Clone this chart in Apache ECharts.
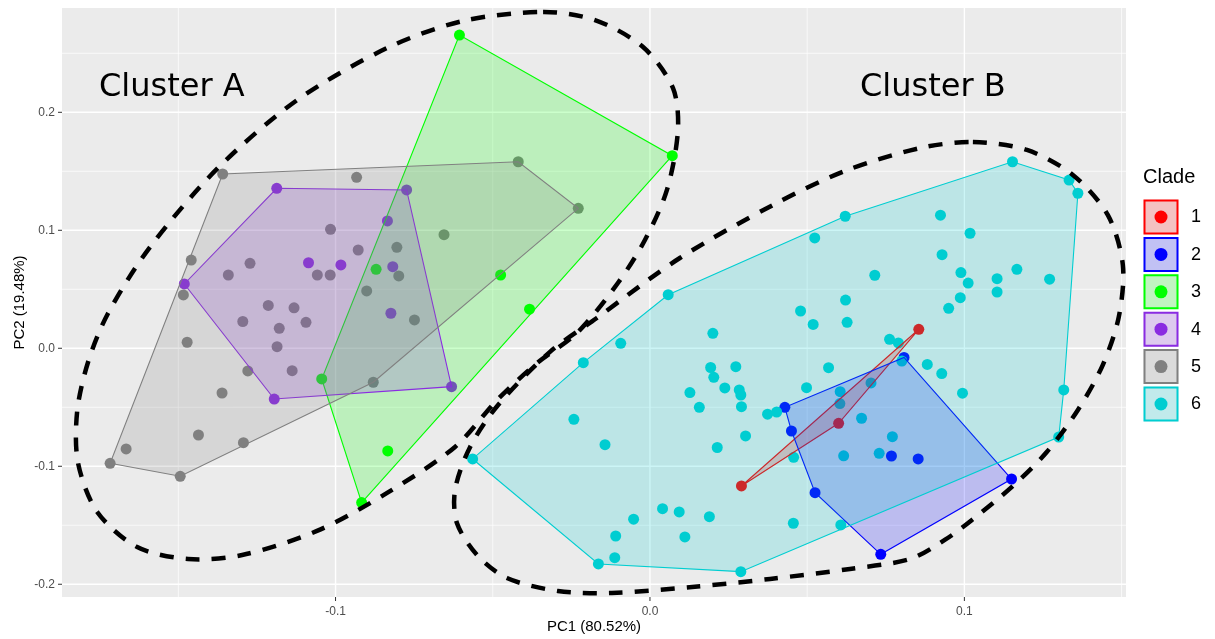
<!DOCTYPE html>
<html>
<head>
<meta charset="utf-8">
<title>PCA of clades</title>
<script src="https://cdn.jsdelivr.net/npm/echarts@6/dist/echarts.min.js"></script>
<style>
  html, body { margin: 0; padding: 0; background: #ffffff; }
  #chart { width: 1215px; height: 639px; }
</style>
</head>
<body>
<div id="chart"></div>
<script>
// Sample scores on the first two principal components, [PC1, PC2], per clade
const clade1 = [[0.0855, 0.0161], [0.0600, -0.0636], [0.0291, -0.1167]];
const clade2 = [[0.0808, -0.0078], [0.0429, -0.0500], [0.0450, -0.0701], [0.0768, -0.0913],
  [0.0853, -0.0938], [0.1150, -0.1108], [0.0734, -0.1746], [0.0525, -0.1224]];
const clade3 = [[-0.0606, 0.2655], [0.0071, 0.1632], [-0.0871, 0.0669], [-0.0475, 0.0621],
  [-0.0383, 0.0331], [-0.1044, -0.0260], [-0.0834, -0.0870], [-0.0917, -0.1308]];
const clade4 = [[-0.1187, 0.1356], [-0.0774, 0.1342], [-0.0835, 0.1079], [-0.1086, 0.0725],
  [-0.0983, 0.0706], [-0.0818, 0.0692], [-0.0824, 0.0297], [-0.0631, -0.0325],
  [-0.1195, -0.0430], [-0.1481, 0.0545]];
const clade5 = [[-0.1359, 0.1477], [-0.0933, 0.1449], [-0.0419, 0.1581], [-0.0228, 0.1186],
  [-0.0655, 0.0963], [-0.1016, 0.1008], [-0.0805, 0.0856], [-0.0928, 0.0833],
  [-0.1459, 0.0748], [-0.1272, 0.0720], [-0.1341, 0.0621], [-0.1058, 0.0621],
  [-0.1017, 0.0621], [-0.0799, 0.0613], [-0.1484, 0.0452], [-0.0901, 0.0486],
  [-0.1214, 0.0363], [-0.1132, 0.0343], [-0.1295, 0.0227], [-0.1179, 0.0169],
  [-0.1094, 0.0220], [-0.0749, 0.0240], [-0.1186, 0.0014], [-0.1472, 0.0051],
  [-0.1279, -0.0192], [-0.1138, -0.0190], [-0.0880, -0.0288], [-0.1361, -0.0379],
  [-0.1436, -0.0735], [-0.1293, -0.0800], [-0.1666, -0.0853], [-0.1717, -0.0975],
  [-0.1494, -0.1085]];
const clade6 = [[-0.0564, -0.0938], [-0.0212, -0.0122], [0.0058, 0.0454], [-0.0093, 0.0042],
  [-0.0242, -0.0602], [-0.0143, -0.0817], [-0.0164, -0.1828], [0.0289, -0.1893],
  [0.0200, 0.0127], [0.0193, -0.0163], [0.0273, -0.0156], [0.0203, -0.0246],
  [0.0127, -0.0375], [0.0238, -0.0336], [0.0284, -0.0353], [0.0289, -0.0396],
  [0.0157, -0.0500], [0.0291, -0.0495], [0.0304, -0.0743], [0.0214, -0.0841],
  [0.0040, -0.1359], [0.0093, -0.1387], [0.0189, -0.1427], [-0.0052, -0.1448],
  [0.0111, -0.1599], [-0.0109, -0.1591], [-0.0112, -0.1775], [0.0374, -0.0559],
  [0.0403, -0.0540], [0.0621, 0.1119], [0.0924, 0.1128], [0.1018, 0.0975],
  [0.0524, 0.0935], [0.0929, 0.0793], [0.0715, 0.0619], [0.0989, 0.0642],
  [0.1012, 0.0553], [0.1104, 0.0590], [0.1104, 0.0477], [0.1167, 0.0669],
  [0.1271, 0.0586], [0.0987, 0.0429], [0.0950, 0.0339], [0.0622, 0.0409],
  [0.0479, 0.0316], [0.0627, 0.0220], [0.0519, 0.0202], [0.0762, 0.0076],
  [0.0790, 0.0045], [0.0801, -0.0108], [0.0882, -0.0137], [0.0928, -0.0214],
  [0.0994, -0.0381], [0.0568, -0.0164], [0.0498, -0.0334], [0.0605, -0.0368],
  [0.0703, -0.0294], [0.0604, -0.0469], [0.0673, -0.0593], [0.0771, -0.0749],
  [0.0457, -0.0924], [0.0616, -0.0911], [0.0729, -0.0890], [0.0456, -0.1483],
  [0.0607, -0.1497], [0.1153, 0.1581], [0.1333, 0.1426], [0.1361, 0.1314],
  [0.1316, -0.0353], [0.1300, -0.0752]];

const cladeNames = ['1', '2', '3', '4', '5', '6'];
const cladeColors = ['#FF0000', '#0000FF', '#00FF00', '#8A2BE2', '#808080', '#00CED1'];

// Dashed outlines grouping the clades into two clusters, [PC1, PC2]
const clusterAOutline = [[-0.0340, 0.2850], [-0.0175, 0.2782], [-0.0022, 0.2553], [0.0073, 0.2206],
  [0.0089, 0.1850], [0.0054, 0.1342], [-0.0016, 0.0918], [-0.0102, 0.0553],
  [-0.0232, 0.0130], [-0.0359, -0.0125], [-0.0486, -0.0438], [-0.0620, -0.0836],
  [-0.0836, -0.1226], [-0.1059, -0.1548], [-0.1297, -0.1752], [-0.1469, -0.1786],
  [-0.1631, -0.1684], [-0.1758, -0.1387], [-0.1819, -0.0972], [-0.1822, -0.0540],
  [-0.1787, -0.0116], [-0.1723, 0.0299], [-0.1590, 0.0858], [-0.1374, 0.1528],
  [-0.1122, 0.2104], [-0.0836, 0.2545], [-0.0595, 0.2774]];
const clusterBOutline = [[0.1027, 0.1748], [0.1199, 0.1681], [0.1345, 0.1469], [0.1456, 0.1130],
  [0.1504, 0.0706], [0.1491, 0.0265], [0.1440, -0.0142], [0.1361, -0.0523],
  [0.1262, -0.0879], [0.1151, -0.1175], [0.1024, -0.1455], [0.0940, -0.1620],
  [0.0827, -0.1786], [0.0636, -0.1870], [0.0382, -0.1955], [0.0134, -0.2023],
  [-0.0121, -0.2074], [-0.0293, -0.2057], [-0.0455, -0.1947], [-0.0550, -0.1752],
  [-0.0614, -0.1481], [-0.0620, -0.1201], [-0.0572, -0.0836], [-0.0483, -0.0481],
  [-0.0318, -0.0031], [-0.0169, 0.0257], [0.0095, 0.0765], [0.0391, 0.1214],
  [0.0620, 0.1503], [0.0859, 0.1697]];
const clusterLabels = ['Cluster A', 'Cluster B'];

// Axis ticks and titles
const xMajorTicks = [-0.1, 0.0, 0.1];
const xMinorTicks = [-0.15, -0.05, 0.05, 0.15];
const yMajorTicks = [-0.2, -0.1, 0.0, 0.1, 0.2];
const yMinorTicks = [-0.15, -0.05, 0.05, 0.15, 0.25];
const xTitle = 'PC1 (80.52%)';
const yTitle = 'PC2 (19.48%)';
const legendTitle = 'Clade';

// ---- layout ----
const X_MIN = -0.187, X_MAX = 0.1514;
const Y_MIN = -0.2108, Y_MAX = 0.2884;
const GRID = { left: 62, top: 8, width: 1064, height: 589 };
const FONT = '"Liberation Sans", Arial, sans-serif';
const PANEL_BG = '#EBEBEB';

function rgba(hex, a) {
  const n = parseInt(hex.slice(1), 16);
  return 'rgba(' + ((n >> 16) & 255) + ',' + ((n >> 8) & 255) + ',' + (n & 255) + ',' + a + ')';
}

// Monotone-chain convex hull
function convexHull(points) {
  const pts = points.slice().sort((a, b) => a[0] - b[0] || a[1] - b[1]);
  const cross = (o, a, b) => (a[0] - o[0]) * (b[1] - o[1]) - (a[1] - o[1]) * (b[0] - o[0]);
  const lower = [], upper = [];
  for (const p of pts) {
    while (lower.length >= 2 && cross(lower[lower.length - 2], lower[lower.length - 1], p) <= 0) lower.pop();
    lower.push(p);
  }
  for (let i = pts.length - 1; i >= 0; i--) {
    const p = pts[i];
    while (upper.length >= 2 && cross(upper[upper.length - 2], upper[upper.length - 1], p) <= 0) upper.pop();
    upper.push(p);
  }
  lower.pop(); upper.pop();
  return lower.concat(upper);
}

const clades = [clade1, clade2, clade3, clade4, clade5, clade6];

// Panel grid lines, axis ticks and tick labels
const xGridData = xMinorTicks.map(v => [v, 0]).concat(xMajorTicks.map(v => [v, 1]));
const yGridData = yMinorTicks.map(v => [v, 0]).concat(yMajorTicks.map(v => [v, 1]));

function renderXGrid(params, api) {
  const v = api.value(0), major = api.value(1) === 1;
  const top = api.coord([v, Y_MAX]);
  const bottom = api.coord([v, Y_MIN]);
  const children = [{
    type: 'line',
    shape: { x1: top[0], y1: top[1], x2: bottom[0], y2: bottom[1] },
    style: { stroke: '#FFFFFF', lineWidth: major ? 1.4 : 0.7 }
  }];
  if (major) {
    children.push({
      type: 'line',
      shape: { x1: bottom[0], y1: bottom[1], x2: bottom[0], y2: bottom[1] + 4 },
      style: { stroke: '#333333', lineWidth: 1 }
    });
    children.push({
      type: 'text', x: bottom[0], y: bottom[1] + 15,
      style: { text: v.toFixed(1), fill: '#4D4D4D', font: '12px ' + FONT,
        align: 'center', verticalAlign: 'middle', textAlign: 'center', textVerticalAlign: 'middle' }
    });
  }
  return { type: 'group', children: children };
}

function renderYGrid(params, api) {
  const v = api.value(0), major = api.value(1) === 1;
  const left = api.coord([X_MIN, v]);
  const right = api.coord([X_MAX, v]);
  const children = [{
    type: 'line',
    shape: { x1: left[0], y1: left[1], x2: right[0], y2: right[1] },
    style: { stroke: '#FFFFFF', lineWidth: major ? 1.4 : 0.7 }
  }];
  if (major) {
    children.push({
      type: 'line',
      shape: { x1: left[0] - 4, y1: left[1], x2: left[0], y2: left[1] },
      style: { stroke: '#333333', lineWidth: 1 }
    });
    children.push({
      type: 'text', x: left[0] - 7, y: left[1],
      style: { text: v.toFixed(1), fill: '#4D4D4D', font: '12px ' + FONT,
        align: 'right', verticalAlign: 'middle', textAlign: 'right', textVerticalAlign: 'middle' }
    });
  }
  return { type: 'group', children: children };
}

function hullSeries(points, color, z) {
  const hull = convexHull(points);
  return {
    type: 'custom', z: z, silent: true, clip: false,
    data: hull, encode: { x: 0, y: 1 },
    renderItem: function (params, api) {
      if (params.dataIndex !== 0) return null;
      return {
        type: 'polygon',
        shape: { points: hull.map(p => api.coord(p)) },
        style: { fill: rgba(color, 0.2), stroke: color, lineWidth: 1.1 }
      };
    }
  };
}

function outlineSeries(points, z) {
  return {
    type: 'custom', z: z, silent: true, clip: false,
    data: points, encode: { x: 0, y: 1 },
    renderItem: function (params, api) {
      if (params.dataIndex !== 0) return null;
      return {
        type: 'polygon',
        shape: { points: points.map(p => api.coord(p)), smooth: 0.3 },
        style: { fill: 'none', stroke: '#000000', lineWidth: 4.5, lineDash: [14, 12] }
      };
    }
  };
}

const series = [
  { type: 'custom', z: 1, silent: true, clip: false, data: xGridData, encode: { x: 0 }, renderItem: renderXGrid },
  { type: 'custom', z: 1, silent: true, clip: false, data: yGridData, encode: { y: 0 }, renderItem: renderYGrid }
];
clades.forEach((pts, i) => {
  series.push({
    type: 'scatter', name: cladeNames[i], data: pts, symbol: 'circle', symbolSize: 11,
    itemStyle: { color: cladeColors[i], opacity: 1 }, z: 3, silent: true
  });
});
clades.forEach((pts, i) => series.push(hullSeries(pts, cladeColors[i], 4)));
series.push(outlineSeries(clusterAOutline, 5));
series.push(outlineSeries(clusterBOutline, 5));

// Titles, cluster labels and the clade key
const graphics = [
  { type: 'text', x: 99, y: 88, z: 20,
    style: { text: clusterLabels[0], font: '32px "DejaVu Sans", sans-serif', fill: '#000000',
      align: 'left', verticalAlign: 'middle', textAlign: 'left', textVerticalAlign: 'middle' } },
  { type: 'text', x: 860, y: 88, z: 20,
    style: { text: clusterLabels[1], font: '32px "DejaVu Sans", sans-serif', fill: '#000000',
      align: 'left', verticalAlign: 'middle', textAlign: 'left', textVerticalAlign: 'middle' } },
  { type: 'text', x: GRID.left + GRID.width / 2, y: 627, z: 20,
    style: { text: xTitle, font: '15px ' + FONT, fill: '#000000',
      align: 'center', verticalAlign: 'middle', textAlign: 'center', textVerticalAlign: 'middle' } },
  { type: 'text', x: 20, y: GRID.top + GRID.height / 2, rotation: Math.PI / 2, z: 20,
    style: { text: yTitle, font: '15px ' + FONT, fill: '#000000',
      align: 'center', verticalAlign: 'middle', textAlign: 'center', textVerticalAlign: 'middle' } },
  { type: 'text', x: 1143, y: 177, z: 20,
    style: { text: legendTitle, font: '20px ' + FONT, fill: '#000000',
      align: 'left', verticalAlign: 'middle', textAlign: 'left', textVerticalAlign: 'middle' } }
];
const KEY_X = 1143.5, KEY_Y = 199.5, KEY_SIZE = 35, KEY_STEP = 37.4;
cladeNames.forEach((name, i) => {
  const y = KEY_Y + i * KEY_STEP;
  const c = cladeColors[i];
  graphics.push({ type: 'rect', z: 20, shape: { x: KEY_X, y: y, width: KEY_SIZE, height: KEY_SIZE },
    style: { fill: '#F2F2F2' } });
  graphics.push({ type: 'circle', z: 21, shape: { cx: KEY_X + KEY_SIZE / 2, cy: y + KEY_SIZE / 2, r: 6.5 },
    style: { fill: c } });
  graphics.push({ type: 'rect', z: 22, shape: { x: KEY_X + 1, y: y + 1, width: KEY_SIZE - 2, height: KEY_SIZE - 2 },
    style: { fill: rgba(c, 0.2), stroke: c, lineWidth: 2 } });
  graphics.push({ type: 'text', x: 1191, y: y + KEY_SIZE / 2 + 0.5, z: 22,
    style: { text: name, font: '18px ' + FONT, fill: '#000000',
      align: 'left', verticalAlign: 'middle', textAlign: 'left', textVerticalAlign: 'middle' } });
});

const chart = echarts.init(document.getElementById('chart'), null, { renderer: 'canvas' });
chart.setOption({
  animation: false,
  backgroundColor: '#FFFFFF',
  grid: { left: GRID.left, top: GRID.top, width: GRID.width, height: GRID.height,
    show: true, backgroundColor: PANEL_BG, borderWidth: 0, containLabel: false },
  xAxis: { type: 'value', min: X_MIN, max: X_MAX,
    axisLine: { show: false }, axisTick: { show: false }, axisLabel: { show: false }, splitLine: { show: false } },
  yAxis: { type: 'value', min: Y_MIN, max: Y_MAX,
    axisLine: { show: false }, axisTick: { show: false }, axisLabel: { show: false }, splitLine: { show: false } },
  tooltip: { show: false },
  series: series,
  graphic: graphics
});
</script>
</body>
</html>
